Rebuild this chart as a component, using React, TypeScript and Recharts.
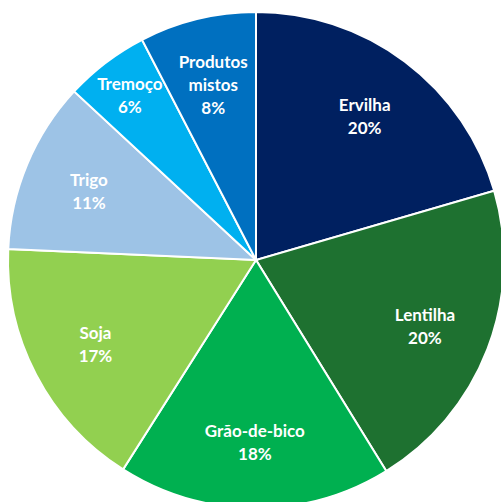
import { PieChart, Pie, Cell } from 'recharts';

// shares (clockwise from 12 o'clock)
const categories = ['Ervilha', 'Lentilha', 'Grão-de-bico', 'Soja', 'Trigo', 'Tremoço', 'Produtos mistos'];
const shares = [20.5, 20.7, 17.8, 16.7, 11.2, 5.5, 7.6];
const percentLabels = ['20%', '20%', '18%', '17%', '11%', '6%', '8%'];
const colors = ['#002060', '#1E7130', '#00B050', '#92D050', '#9DC3E6', '#00B0F0', '#0070C0'];

const data = categories.map((name, i) => ({ name, value: shares[i], pct: percentLabels[i] }));

const RADIAN = Math.PI / 180;

function renderLabel(props: any) {
  const { cx, cy, midAngle, outerRadius, index, percent } = props;
  // thin slices get their label pushed outward so the text fits inside
  const r = outerRadius * (percent < 0.07 ? 0.84 : 0.73);
  const x = cx + r * Math.cos(-midAngle * RADIAN);
  const y = cy + r * Math.sin(-midAngle * RADIAN);
  const lines = [...categories[index].split(' '), percentLabels[index]];
  const lh = 23;
  const top = y - ((lines.length - 1) * lh) / 2;
  return (
    <text
      x={x}
      y={top}
      fill="#fff"
      textAnchor="middle"
      dominantBaseline="central"
      style={{ fontFamily: 'Lato, sans-serif', fontWeight: 700, fontSize: 17 }}
    >
      {lines.map((l, i) => (
        <tspan key={i} x={x} dy={i === 0 ? 0 : lh}>
          {l}
        </tspan>
      ))}
    </text>
  );
}

export default function App() {
  return (
    <div style={{ position: 'absolute', left: 0, top: 0, width: 501, height: 502, overflow: 'hidden', background: '#fff' }}>
      <PieChart width={501} height={502} margin={{ top: 0, right: 0, bottom: 0, left: 0 }}>
        <Pie
          data={data}
          dataKey="value"
          nameKey="name"
          cx={256}
          cy={260}
          outerRadius={248}
          startAngle={90}
          endAngle={-270}
          stroke="#fff"
          strokeWidth={2}
          label={renderLabel}
          labelLine={false}
          isAnimationActive={false}
        >
          {data.map((d, i) => (
            <Cell key={d.name} fill={colors[i]} />
          ))}
        </Pie>
      </PieChart>
    </div>
  );
}
